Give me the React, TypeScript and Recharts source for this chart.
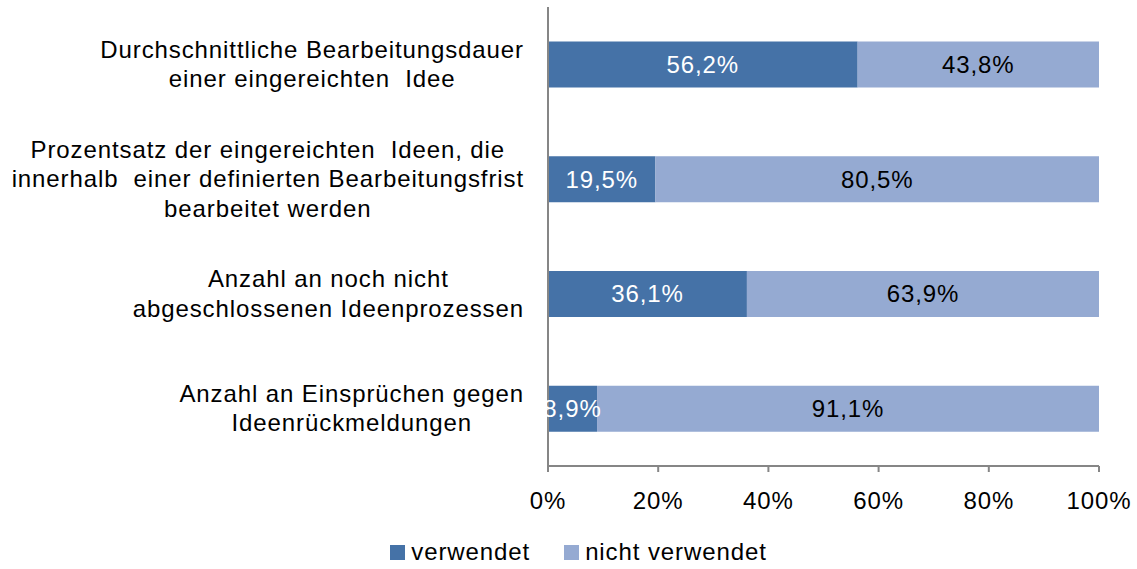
import React from "react";
import { BarChart, Bar, XAxis, YAxis, LabelList } from "recharts";

const categories: string[][] = [
  ["Durchschnittliche Bearbeitungsdauer", "einer eingereichten  Idee"],
  ["Prozentsatz der eingereichten  Ideen, die", "innerhalb  einer definierten Bearbeitungsfrist", "bearbeitet werden"],
  ["Anzahl an noch nicht", "abgeschlossenen Ideenprozessen"],
  ["Anzahl an Einsprüchen gegen", "Ideenrückmeldungen"],
];
const verwendet = [56.2, 19.5, 36.1, 8.9];
const nichtVerwendet = [43.8, 80.5, 63.9, 91.1];
const xTicks = [0, 20, 40, 60, 80, 100];
const seriesNames = ["verwendet", "nicht verwendet"];

const DARK = "#4572A7";
const LIGHT = "#95AAD2";
const FONT = "'Liberation Sans', Arial, sans-serif";
const FS = 24;
const LS = 0.9;

const data = categories.map((c, i) => ({
  key: String(i),
  v: verwendet[i],
  n: nichtVerwendet[i],
}));

let ctx: CanvasRenderingContext2D | null = null;
function measure(s: string): number {
  if (!ctx) {
    const c = document.createElement("canvas");
    ctx = c.getContext("2d");
  }
  if (!ctx) return s.length * FS * 0.5;
  ctx.font = `${FS}px "Liberation Sans"`;
  return ctx.measureText(s).width + s.length * LS;
}

const CategoryTick = (props: any) => {
  const { x, y, payload } = props;
  const lines = categories[Number(payload.value)] || [];
  const maxW = Math.max(...lines.map(measure));
  const right = x - 16;
  const cx = right - maxW / 2;
  const lh = 29.5;
  const start = y - ((lines.length - 1) * lh) / 2;
  return (
    <g>
      {lines.map((l, i) => (
        <text
          key={i}
          x={cx}
          y={start + i * lh}
          dy={8}
          textAnchor="middle"
          fill="#000"
          fontSize={FS}
          fontFamily={FONT}
          letterSpacing={LS}
          style={{ whiteSpace: "pre" }}
        >
          {l}
        </text>
      ))}
    </g>
  );
};

const fmt = (v: any) => `${Number(v).toFixed(1).replace(".", ",")}%`;

const LegendBlock = () => (
  <div
    style={{
      position: "absolute",
      left: 10,
      top: 539,
      width: 1137,
      display: "flex",
      justifyContent: "center",
      alignItems: "center",
      fontFamily: FONT,
      fontSize: FS,
      letterSpacing: LS,
      color: "#000",
      lineHeight: "26px",
    }}
  >
    {seriesNames.map((n, i) => (
      <div key={n} style={{ display: "flex", alignItems: "center", marginRight: i === 0 ? 34 : 0 }}>
        <div style={{ width: 15, height: 15, background: i === 0 ? DARK : LIGHT, marginRight: 6 }} />
        <span>{n}</span>
      </div>
    ))}
  </div>
);

export default function App() {
  return (
    <div style={{ position: "absolute", left: 0, top: 0, width: 1137, height: 569, background: "#fff" }}>
      <BarChart
        width={1137}
        height={569}
        data={data}
        layout="vertical"
        margin={{ top: 7, right: 38, bottom: 0, left: 0 }}
        barCategoryGap="30%"
      >
        <XAxis
          type="number"
          domain={[0, 100]}
          ticks={xTicks}
          tickFormatter={(v) => `${v}%`}
          axisLine={{ stroke: "#868686", strokeWidth: 2 }}
          tickLine={{ stroke: "#868686", strokeWidth: 2 }}
          tickSize={6}
          tickMargin={20}
          tick={{ fill: "#000", fontSize: FS, fontFamily: FONT, letterSpacing: LS }}
          interval={0}
          height={103}
        />
        <YAxis
          type="category"
          dataKey="key"
          width={548}
          axisLine={{ stroke: "#868686", strokeWidth: 2 }}
          tickLine={false}
          tick={<CategoryTick />}
          interval={0}
        />
        <Bar dataKey="v" name={seriesNames[0]} stackId="a" fill={DARK} isAnimationActive={false}>
          <LabelList
            dataKey="v"
            position="center"
            formatter={fmt}
            fill="#fff"
            fontSize={FS}
            fontFamily={FONT}
            letterSpacing={LS}
          />
        </Bar>
        <Bar dataKey="n" name={seriesNames[1]} stackId="a" fill={LIGHT} isAnimationActive={false}>
          <LabelList
            dataKey="n"
            position="center"
            formatter={fmt}
            fill="#000"
            fontSize={FS}
            fontFamily={FONT}
            letterSpacing={LS}
          />
        </Bar>
      </BarChart>
      <LegendBlock />
    </div>
  );
}
